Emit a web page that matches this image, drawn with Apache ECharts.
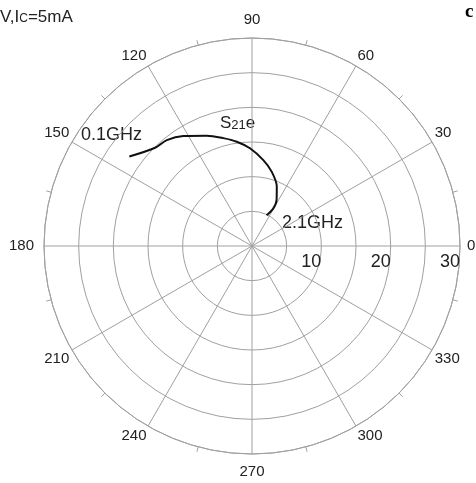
<!DOCTYPE html>
<html><head><meta charset="utf-8">
<script src="https://cdn.jsdelivr.net/npm/echarts@6/dist/echarts.min.js"></script>
<style>html,body{margin:0;padding:0;background:#fff}#c{width:476px;height:483px}</style>
</head><body><div id="c"></div>
<script>
// S21e magnitude (radius) and phase angle (degrees), 0.1GHz -> 2.1GHz
const magnitudes = [21.9, 19.9, 19.6, 18.7, 17.2, 16.1, 15.2, 14.1, 12.5, 11.1, 9.3, 7.5, 6.2, 4.9];
const angles     = [143.9, 134.6, 128.8, 122.0, 112.3, 104.9, 98.3, 91.2, 82.5, 75.2, 67.4, 61.8, 60.5, 64.6];
const radiusLabels = [10, 20, 30];
const angleMin = 0, angleMax = 360, angleStep = 30;
const radiusMax = 30, radiusStep = 5;

const data = magnitudes.map((m, i) => [m, angles[i]]);
const gridColor = '#a0a0a0';
const textColor = '#222';
const font = 'Liberation Sans, Arial, sans-serif';

const angleRich = {
  d: {fontSize: 15, color: textColor, fontFamily: font},
  t: {fontSize: 15, color: textColor, fontFamily: font, padding: [0, 0, 8, 0]},
  b: {fontSize: 15, color: textColor, fontFamily: font, padding: [7, 0, 0, 0]},
  l: {fontSize: 15, color: textColor, fontFamily: font, padding: [0, 7, 0, 0]},
  r: {fontSize: 15, color: textColor, fontFamily: font, padding: [0, 0, 0, 4]}
};
function angleFmt(v) {
  if (v === 360) return '';
  const key = v === 90 ? 't' : v === 270 ? 'b' : v === 180 ? 'l' : v === 0 ? 'r' : 'd';
  return '{' + key + '|' + v + '}';
}

const chart = echarts.init(document.getElementById('c'), null, {renderer: 'canvas'});
chart.setOption({
  backgroundColor: '#fff',
  animation: false,
  polar: {center: [252, 246], radius: 208},
  angleAxis: {
    type: 'value', min: angleMin, max: angleMax, interval: angleStep,
    startAngle: 0, clockwise: false,
    axisLine: {show: true, lineStyle: {color: gridColor, width: 1}},
    axisTick: {show: false},
    minorTick: {show: true, splitNumber: 2, length: 5, lineStyle: {color: gridColor}},
    splitLine: {show: true, lineStyle: {color: gridColor, width: 1}},
    axisLabel: {margin: 3, rich: angleRich, formatter: angleFmt}
  },
  radiusAxis: {
    type: 'value', min: 0, max: radiusMax, interval: radiusStep,
    axisLine: {show: false}, axisTick: {show: false},
    splitLine: {show: true, lineStyle: {color: gridColor, width: 1}},
    axisLabel: {
      show: true, color: textColor, fontSize: 18, fontFamily: font,
      align: 'right', verticalAlign: 'top', margin: -7,
      formatter: v => (radiusLabels.indexOf(v) >= 0 ? String(v) : '')
    }
  },
  series: [{
    type: 'line', coordinateSystem: 'polar', data: data,
    smooth: 0.3, symbol: 'none',
    lineStyle: {color: '#111', width: 2}
  }],
  graphic: [
    {type: 'text', left: 0, top: 9, style: {
      rich: {a: {fontSize: 17, fill: textColor, fontFamily: font}, s: {fontSize: 12, fill: textColor, fontFamily: font, padding: [3,0,0,0]}},
      text: '{a|V,I}{s|C}{a|=5mA}'}},
    {type: 'text', left: 465, top: 3, style: {text: 'c', fontSize: 19, fontWeight: 'bold', fontFamily: 'Liberation Serif, Times New Roman, serif', fill: '#000'}},
    {type: 'text', left: 81, top: 126, style: {text: '0.1GHz', fontSize: 18, fontFamily: font, fill: textColor}},
    {type: 'text', left: 220, top: 115, style: {
      rich: {a: {fontSize: 17, fill: textColor, fontFamily: font}, s: {fontSize: 13, fill: textColor, fontFamily: font, padding: [3,0,0,0]}},
      text: '{a|S}{s|21}{a|e}'}},
    {type: 'text', left: 282, top: 214, style: {text: '2.1GHz', fontSize: 18, fontFamily: font, fill: textColor}}
  ]
});
</script></body></html>
